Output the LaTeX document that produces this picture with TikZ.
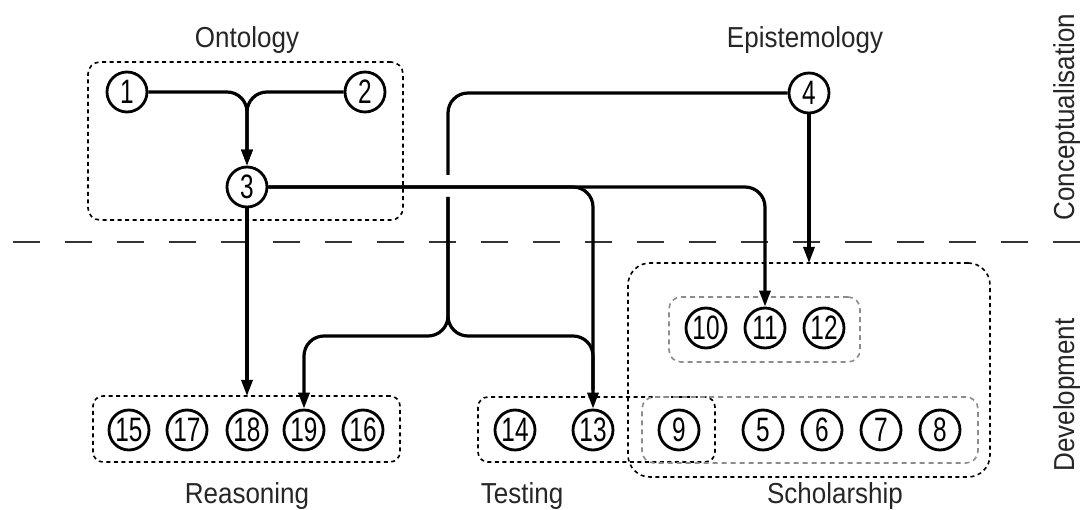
\documentclass[tikz,border=0pt]{standalone}
\usepackage{fontspec}
\setmainfont{Liberation Sans}
\newfontfamily\numfont[FakeStretch=0.72]{Liberation Sans}
\newfontfamily\lblfont[FakeStretch=0.9]{Liberation Sans}
\usetikzlibrary{arrows.meta,calc}

\begin{document}
\begin{tikzpicture}[x=1bp,y=-1bp,
  num/.style={circle, draw, line width=2.8bp, fill=white, minimum size=40bp,
              inner sep=0pt, font=\numfont\fontsize{34}{34}\selectfont},
  grp/.style={draw, line width=1.6bp, dash pattern=on 4bp off 3.5bp,
              rounded corners=12bp, inner sep=0pt, outer sep=0pt},
  subgrp/.style={grp, draw=black!45, dash pattern=on 5bp off 4bp},
  conn/.style={line width=3.2bp, rounded corners=20bp},
  tip/.style={-{Triangle[length=16bp,width=11bp]}},
  lbl/.style={font=\lblfont\fontsize{29}{31}\selectfont, text=black!85, inner sep=0pt},
]
\useasboundingbox (0,0) rectangle (1083,510);

% group frames
\node[grp, minimum width=315bp, minimum height=158bp] (onto)  at (245.5,141) {};
\node[grp, rounded corners=10bp, minimum width=307bp, minimum height=66bp] (reas) at (246.5,429) {};
\node[grp, rounded corners=10bp, minimum width=237bp, minimum height=65bp] (test) at (596.5,429.5) {};
\node[grp, rounded corners=22bp, minimum width=362bp, minimum height=214bp] (schol) at (809,370) {};
\node[subgrp, minimum width=191bp, minimum height=65bp] (scholA) at (764.5,329.5) {};
\node[subgrp, minimum width=336bp, minimum height=66bp] (scholB) at (810,430) {};

% phase separator
\coordinate (sepL) at (13,242);
\coordinate (sepR) at (1083,242);
\draw[line width=2.6bp, black!80, dash pattern=on 27bp off 25bp] (sepL) -- (sepR);

% numbered items
\node[num] (n1)  at (127,92) {1};
\node[num] (n2)  at (365,92) {2};
\node[num] (n3)  at (247,187) {3};
\node[num] (n4)  at (809,93) {4};
\node[num] (n10) at (706,328) {10};
\node[num] (n11) at (765,328) {11};
\node[num] (n12) at (824,328) {12};
\node[num] (n15) at (129,430) {15};
\node[num] (n17) at (187,430) {17};
\node[num] (n18) at (247,430) {18};
\node[num] (n19) at (304,430) {19};
\node[num] (n16) at (363,430) {16};
\node[num] (n14) at (515,430) {14};
\node[num] (n13) at (593,430) {13};
\node[num] (n9)  at (679,430) {9};
\node[num] (n5)  at (763,430) {5};
\node[num] (n6)  at (822,430) {6};
\node[num] (n7)  at (881,430) {7};
\node[num] (n8)  at (940,430) {8};

% helper points for the routed connectors
\coordinate (gapA) at (448,175);
\coordinate (gapB) at (448,197);
\coordinate (bx)   at (448,336);
\coordinate (m13)  at (593,390);

% connectors
\draw[conn,tip] (n1.east) -- (n1 -| n3) -- (n3.north);
\draw[conn,tip] (n2.west) -- (n2 -| n3) -- (n3.north);
\draw[conn,tip] (n3.south) -- (n3 |- reas.north);
\draw[conn] (n4.west) -| (gapA);
\draw[conn,tip] (gapB) -- (bx) -| (n19.north);
\draw[conn] (gapB) -- (bx) -- (bx -| n13) -- (m13);
\draw[conn,tip] (n3.east) -- (n3 -| n13) -- (n13.north);
\draw[conn,tip] (n3.east) -- (n3 -| n11) -- (n11.north);
\draw[conn,tip] (n4.south) -- (n4 |- schol.north);

% labels
\node[lbl, anchor=base] (lOnto)  at (247,48)  {Ontology};
\node[lbl, anchor=base] (lEpi)   at (805,48)  {Epistemology};
\node[lbl, anchor=base] (lReas)  at (247,503) {Reasoning};
\node[lbl, anchor=base] (lTest)  at (522,503) {Testing};
\node[lbl, anchor=base] (lSchol) at (835,503) {Scholarship};
\node[lbl, anchor=base, rotate=90] (lConc) at (1074,117) {Conceptualisation};
\node[lbl, anchor=base, rotate=90] (lDev)  at (1074,395) {Development};
\end{tikzpicture}
\end{document}
